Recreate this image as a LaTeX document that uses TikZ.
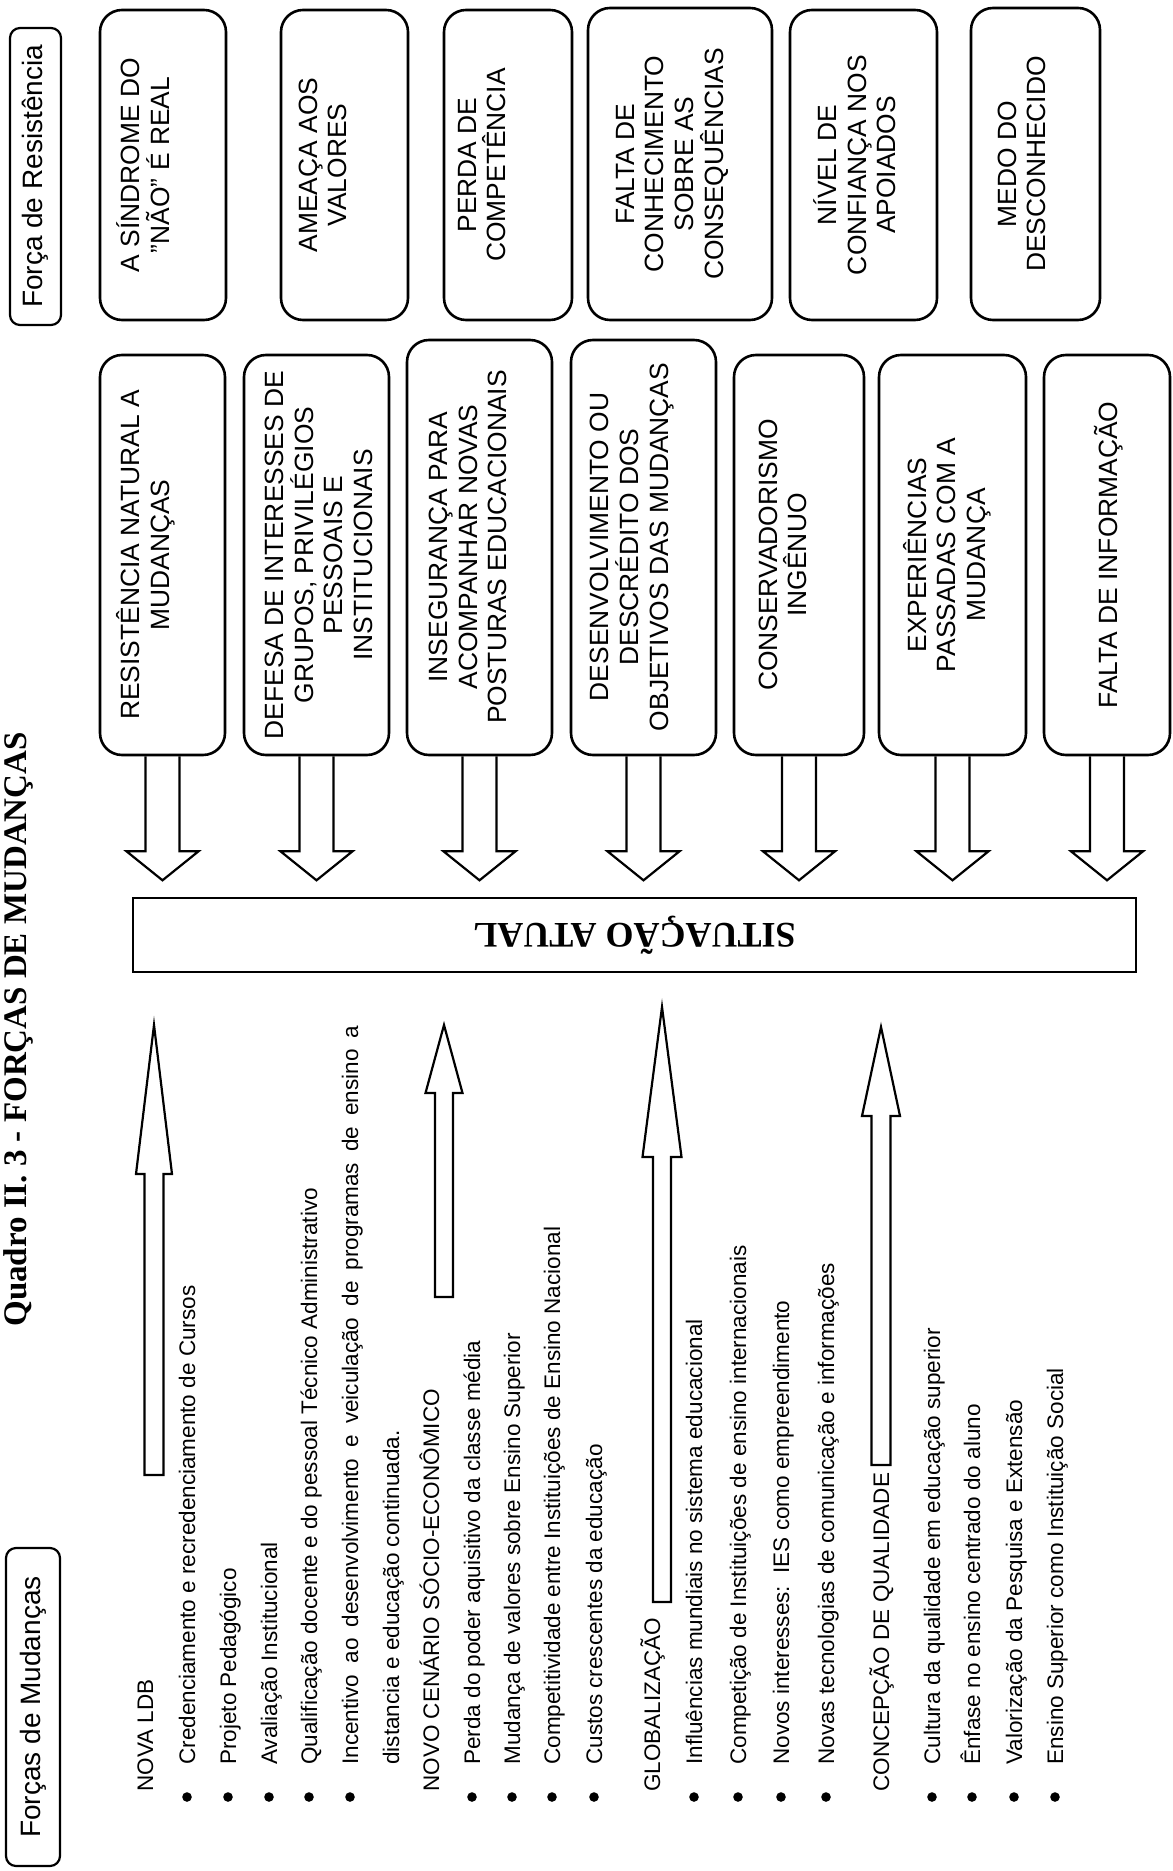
\documentclass[tikz,border=0pt]{standalone}
\usepackage{fontspec}
\setmainfont{Liberation Sans}
\newfontfamily\tnr{Liberation Serif}
\usetikzlibrary{calc,fit}
\newcommand\DnArr[1]{\draw[barrow] ($(#1.south)+(-17,0)$) -- ($(#1.south)+(-17,95)$) -- ($(#1.south)+(-36,95)$) -- ($(#1.south)+(0,124)$) -- ($(#1.south)+(36,95)$) -- ($(#1.south)+(17,95)$) -- ($(#1.south)+(17,0)$);}
\newcommand\UpArr[4]{\draw[barrow] ($(#1e)+(-#4,0)$) -- ($(#1t)+(-#4,#2)$) -- ($(#1t)+(-#3,#2)$) -- (#1t) -- ($(#1t)+(#3,#2)$) -- ($(#1t)+(#4,#2)$) -- ($(#1e)+(#4,0)$) -- cycle;}
\begin{document}
\begin{tikzpicture}[x=0.5pt,y=-0.5pt,
 rbox/.style={draw,line width=1.3pt,rounded corners=11pt,inner sep=0pt},
 hbox/.style={draw,line width=1.1pt,rounded corners=5pt,inner sep=0pt},
 btxt/.style={rotate=90,align=center,inner sep=0pt,font=\fontsize{13.2}{14.8}\selectfont},
 htxt/.style={rotate=90,inner sep=0pt,font=\fontsize{14}{16}\selectfont},
 ltxt/.style={rotate=90,anchor=base west,inner sep=0pt,font=\fontsize{11.25}{13}\selectfont},
 barrow/.style={draw,line width=1.1pt,line join=miter},
 bul/.style={circle,fill,inner sep=0pt,minimum size=4.8pt},
]
\useasboundingbox (0,0) rectangle (1172,1871);
\clip (0,0) rectangle (1172,1871);

% title
\node[rotate=90,anchor=base west,inner sep=0pt,font=\tnr\bfseries\fontsize{16.5}{18}\selectfont] (title) at (26,1327) {Quadro II. 3 - FORÇAS DE MUDANÇAS};

% headers
\node[hbox,fit={(10,28) (61,325)}] (hres) {};
\node[htxt] (hrest) at (hres.center) {Força de Resistência};
\node[hbox,fit={(6,1548) (60,1866)}] (hmud) {};
\node[htxt] (hmudt) at (hmud.center) {Forças de Mudanças};

% top row of resistance boxes
\node[rbox,fit={(100,10) (226,320)}] (t1) {};
\node[btxt] (t1t) at (143,165) {A SÍNDROME DO\\"NÃO" É REAL};
\node[rbox,fit={(281,10) (408,320)}] (t2) {};
\node[btxt] (t2t) at (323,165) {AMEAÇA AOS\\VALORES};
\node[rbox,fit={(444,10) (572,320)}] (t3) {};
\node[btxt] (t3t) at (482,165) {PERDA DE\\COMPETÊNCIA};
\node[rbox,fit={(588,8) (772,320)}] (t4) {};
\node[btxt] (t4t) at (672,164) {FALTA DE\\CONHECIMENTO\\SOBRE AS\\CONSEQUÊNCIAS};
\node[rbox,fit={(790,10) (937,320)}] (t5) {};
\node[btxt] (t5t) at (855,165) {NÍVEL DE\\CONFIANÇA NOS\\APOIADOS};
\node[rbox,fit={(971,8) (1100,320)}] (t6) {};
\node[btxt] (t6t) at (1022,164) {MEDO DO\\DESCONHECIDO};

% second row of resistance boxes
\node[rbox,fit={(100,355) (225,755)}] (r1) {};
\node[btxt] (r1t) at (146,555) {RESISTÊNCIA NATURAL A\\MUDANÇAS};
\node[rbox,fit={(244,355) (389,755)}] (r2) {};
\node[btxt] (r2t) at (319,555) {DEFESA DE INTERESSES DE\\GRUPOS, PRIVILÉGIOS\\PESSOAIS E\\INSTITUCIONAIS};
\node[rbox,fit={(407,340) (552,755)}] (r3) {};
\node[btxt] (r3t) at (468,547) {INSEGURANÇA PARA\\ACOMPANHAR NOVAS\\POSTURAS EDUCACIONAIS};
\node[rbox,fit={(571,340) (716,755)}] (r4) {};
\node[btxt] (r4t) at (632,547) {DESENVOLVIMENTO OU\\DESCRÉDITO DOS\\OBJETIVOS DAS MUDANÇAS};
\node[rbox,fit={(734,355) (864,755)}] (r5) {};
\node[btxt] (r5t) at (783,555) {CONSERVADORISMO\\INGÊNUO};
\node[rbox,fit={(879,355) (1026,755)}] (r6) {};
\node[btxt] (r6t) at (947,555) {EXPERIÊNCIAS\\PASSADAS COM A\\MUDANÇA};
\node[rbox,fit={(1044,355) (1170,755)}] (r7) {};
\node[btxt] (r7t) at (1109,555) {FALTA DE INFORMAÇÃO};

\DnArr{r1}\DnArr{r2}\DnArr{r3}\DnArr{r4}\DnArr{r5}\DnArr{r6}\DnArr{r7}

% current situation
\node[draw,line width=1.1pt,inner sep=0pt,fit={(133,898) (1136,972)}] (sit) {};
\node[rotate=180,inner sep=0pt,font=\tnr\bfseries\fontsize{18}{20}\selectfont] (sitt) at (sit.center) {SITUAÇÃO ATUAL};

% forces of change arrows
\coordinate (u1t) at (154,1025); \coordinate (u1e) at (154,1475);
\UpArr{u1}{149}{18}{9.5}
\coordinate (u2t) at (444,1025); \coordinate (u2e) at (444,1297);
\UpArr{u2}{68}{18.5}{9}
\coordinate (u3t) at (662,1007); \coordinate (u3e) at (662,1602);
\UpArr{u3}{150}{19.5}{9}
\coordinate (u4t) at (881,1027); \coordinate (u4e) at (881,1465);
\UpArr{u4}{89}{19}{9.5}

% list of forces of change
\node[ltxt] (g1) at (153,1792) {NOVA LDB};
\node[bul] (b11) at (187,1797) {};
\node[ltxt] (i11) at (195,1765) {Credenciamento e recredenciamento de Cursos};
\node[bul] (b12) at (228,1797) {};
\node[ltxt] (i12) at (236,1765) {Projeto Pedagógico};
\node[bul] (b13) at (269,1797) {};
\node[ltxt] (i13) at (277,1765) {Avaliação Institucional};
\node[bul] (b14) at (309,1797) {};
\node[ltxt] (i14) at (317,1765) {Qualificação docente e do pessoal Técnico Administrativo};
\node[bul] (b15) at (350,1797) {};
\node[ltxt] (i15) at (358,1765) {\makebox[369.5pt][s]{Incentivo ao desenvolvimento e veiculação de programas de ensino a}};
\node[ltxt] (i16) at (399,1765) {distancia e educação continuada.};

\node[ltxt] (g2) at (439,1792) {NOVO CENÁRIO SÓCIO-ECONÔMICO};
\node[bul] (b21) at (472,1797) {};
\node[ltxt] (i21) at (480,1765) {Perda do poder aquisitivo da classe média};
\node[bul] (b22) at (512,1797) {};
\node[ltxt] (i22) at (520,1765) {Mudança de valores sobre Ensino Superior};
\node[bul] (b23) at (552,1797) {};
\node[ltxt] (i23) at (560,1765) {Competitividade entre Instituições de Ensino Nacional};
\node[bul] (b24) at (594,1797) {};
\node[ltxt] (i24) at (602,1765) {Custos crescentes da educação};

\node[ltxt] (g3) at (660,1792) {GLOBALIZAÇÃO};
\node[bul] (b31) at (694,1797) {};
\node[ltxt] (i31) at (702,1765) {Influências mundiais no sistema educacional};
\node[bul] (b32) at (738,1797) {};
\node[ltxt] (i32) at (746,1765) {Competição de Instituições de ensino internacionais};
\node[bul] (b33) at (781,1797) {};
\node[ltxt] (i33) at (789,1765) {Novos interesses:\ \ IES como empreendimento};
\node[bul] (b34) at (826,1797) {};
\node[ltxt] (i34) at (834,1765) {Novas tecnologias de comunicação e informações};

\node[ltxt] (g4) at (889,1792) {CONCEPÇÃO DE QUALIDADE};
\node[bul] (b41) at (932,1797) {};
\node[ltxt] (i41) at (940,1765) {Cultura da qualidade em educação superior};
\node[bul] (b42) at (972,1797) {};
\node[ltxt] (i42) at (980,1765) {Ênfase no ensino centrado do aluno};
\node[bul] (b43) at (1014,1797) {};
\node[ltxt] (i43) at (1022,1765) {Valorização da Pesquisa e Extensão};
\node[bul] (b44) at (1055,1797) {};
\node[ltxt] (i44) at (1063,1765) {Ensino Superior como Instituição Social};
\end{tikzpicture}
\end{document}
